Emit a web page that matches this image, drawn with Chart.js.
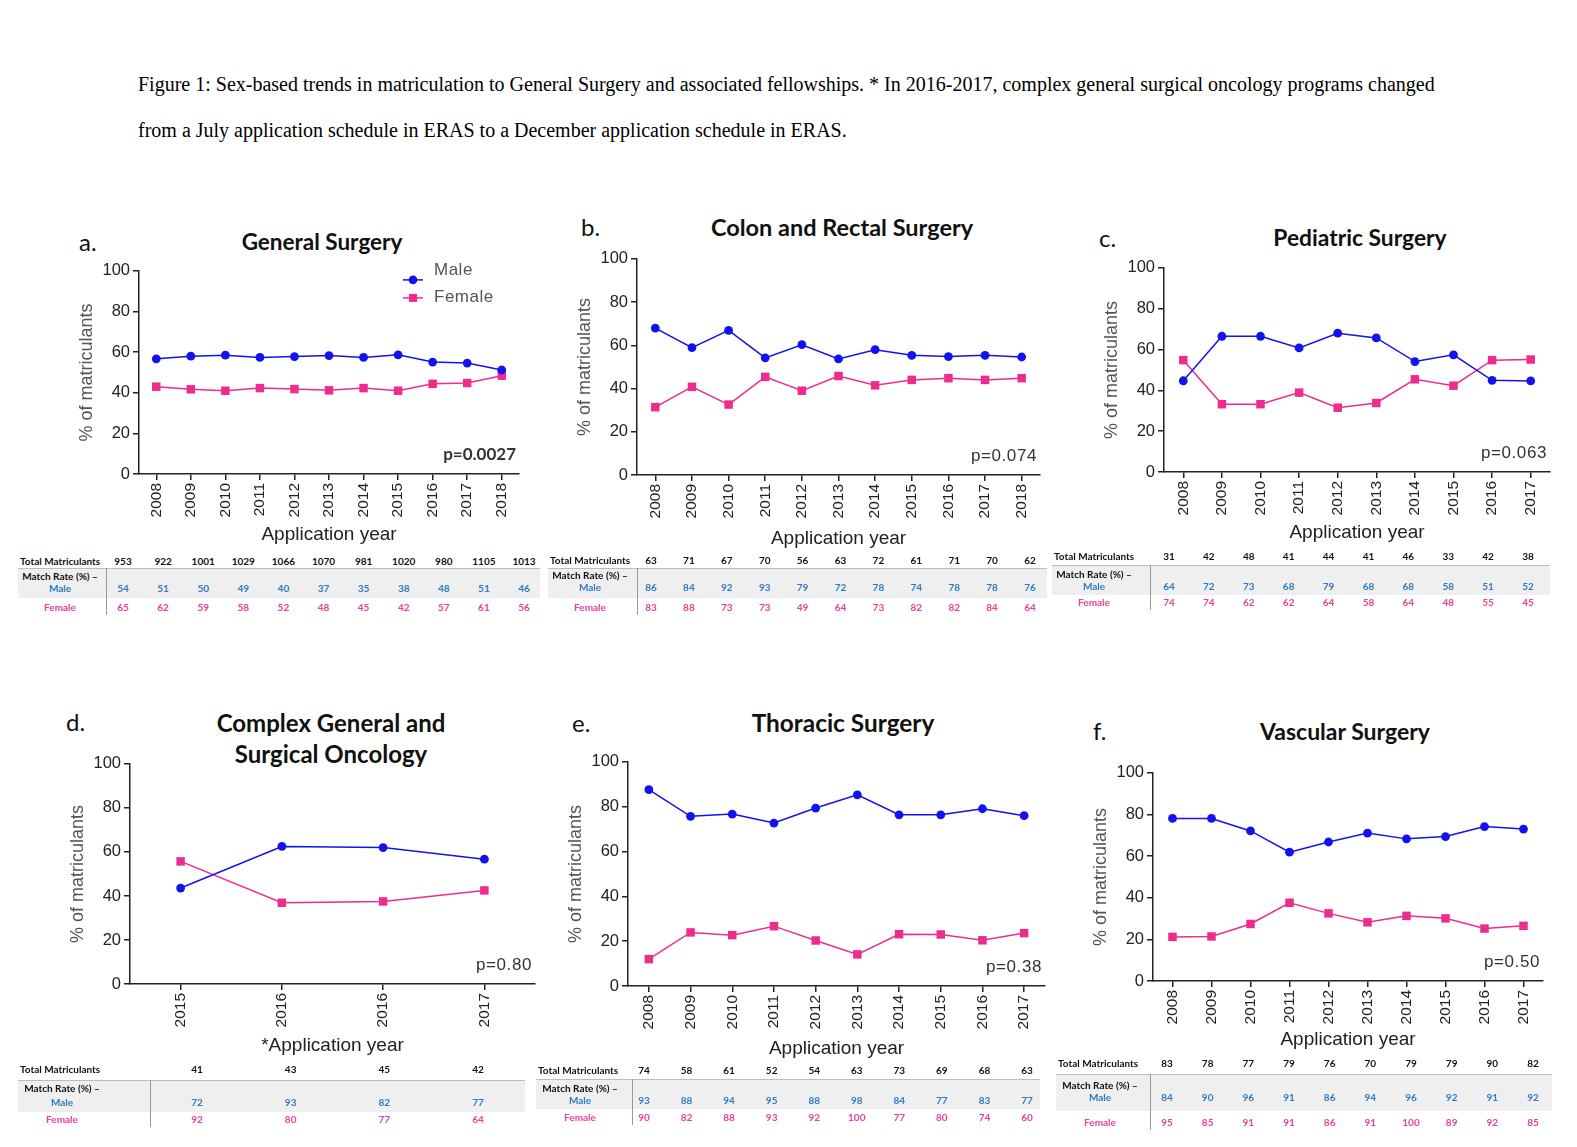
<!DOCTYPE html>
<html>
<head>
<meta charset="utf-8">
<script src="https://cdn.jsdelivr.net/npm/chart.js@4.4.1/dist/chart.umd.min.js"></script>
<style>
  body { margin: 0; background: #fff; width: 1577px; height: 1147px; position: relative; overflow: hidden; }
  .cap { position: absolute; left: 138px; font-family: "Liberation Serif", "Times New Roman", serif; font-size: 20px; color: #000; white-space: nowrap; transform: translateY(-50%); }
  .letter { position: absolute; font-family: Lato, "Open Sans", sans-serif; font-size: 24px; color: #111; transform: translateY(-50%); }
  .title { position: absolute; font-family: Lato, "Open Sans", sans-serif; font-weight: bold; color: #111; transform: translate(-50%, -50%); text-align: center; white-space: nowrap; line-height: 31px; }
  canvas { position: absolute; }
  .tb { position: absolute; font-family: Lato, "Open Sans", sans-serif; font-weight: bold; font-size: 10px; white-space: nowrap; transform: translateY(-50%); }
  .tc { transform: translate(-50%, -50%); }
  .band { position: absolute; background: #efefef; border-top: 1.5px solid #bcbcbc; }
  .vline { position: absolute; width: 1px; background: #999; }
</style>
</head>
<body>
<div class="cap" style="top:84px">Figure 1: Sex-based trends in matriculation to General Surgery and associated fellowships. * In 2016-2017, complex general surgical oncology programs changed</div>
<div class="cap" style="top:130px">from a July application schedule in ERAS to a December application schedule in ERAS.</div>

<script>
// ---- data ----
const yearsA = ["2008","2009","2010","2011","2012","2013","2014","2015","2016","2017","2018"];
const yearsC = ["2008","2009","2010","2011","2012","2013","2014","2015","2016","2017"];
const yearsD = ["2015","2016","2016","2017"];

// a. General Surgery
const genMale   = [56.7, 58.0, 58.5, 57.4, 57.8, 58.3, 57.4, 58.7, 55.1, 54.6, 51.2];
const genFemale = [43.0, 41.7, 41.0, 42.3, 41.8, 41.2, 42.3, 41.0, 44.4, 44.8, 48.4];
const genTotal  = [953, 922, 1001, 1029, 1066, 1070, 981, 1020, 980, 1105, 1013];
const genMatchM = [54, 51, 50, 49, 40, 37, 35, 38, 48, 51, 46];
const genMatchF = [65, 62, 59, 58, 52, 48, 45, 42, 57, 61, 56];

// b. Colon and Rectal Surgery
const crsMale   = [68.0, 58.9, 66.9, 54.2, 60.3, 53.7, 58.0, 55.4, 54.8, 55.4, 54.6];
const crsFemale = [31.4, 40.8, 32.6, 45.4, 39.0, 45.8, 41.5, 44.0, 44.8, 44.0, 44.8];
const crsTotal  = [63, 71, 67, 70, 56, 63, 72, 61, 71, 70, 62];
const crsMatchM = [86, 84, 92, 93, 79, 72, 78, 74, 78, 78, 76];
const crsMatchF = [83, 88, 73, 73, 49, 64, 73, 82, 82, 84, 64];

// c. Pediatric Surgery
const pedMale   = [44.7, 66.5, 66.5, 60.8, 68.0, 65.7, 54.1, 57.4, 44.9, 44.6];
const pedFemale = [54.8, 33.2, 33.2, 38.9, 31.5, 33.8, 45.4, 42.3, 54.8, 55.1];
const pedTotal  = [31, 42, 48, 41, 44, 41, 46, 33, 42, 38];
const pedMatchM = [64, 72, 73, 68, 79, 68, 68, 58, 51, 52];
const pedMatchF = [74, 74, 62, 62, 64, 58, 64, 48, 55, 45];

// d. Complex General and Surgical Oncology
const oncMale   = [43.6, 62.5, 62.0, 56.7];
const oncFemale = [55.7, 36.9, 37.5, 42.5];
const oncTotal  = [41, 43, 45, 42];
const oncMatchM = [72, 93, 82, 77];
const oncMatchF = [92, 80, 77, 64];

// e. Thoracic Surgery
const thoMale   = [87.6, 75.7, 76.7, 72.7, 79.4, 85.3, 76.4, 76.4, 79.1, 76.0];
const thoFemale = [12.0, 23.9, 22.7, 26.7, 20.3, 14.1, 23.1, 23.0, 20.4, 23.6];
const thoTotal  = [74, 58, 61, 52, 54, 63, 73, 69, 68, 63];
const thoMatchM = [93, 88, 94, 95, 88, 98, 84, 77, 83, 77];
const thoMatchF = [90, 82, 88, 93, 92, 100, 77, 80, 74, 60];

// f. Vascular Surgery
const vasMale   = [78.1, 78.1, 72.1, 61.9, 66.8, 71.1, 68.3, 69.4, 74.2, 73.0];
const vasFemale = [21.2, 21.4, 27.4, 37.6, 32.5, 28.2, 31.3, 30.1, 25.2, 26.5];
const vasTotal  = [83, 78, 77, 79, 76, 70, 79, 79, 90, 82];
const vasMatchM = [84, 90, 96, 91, 86, 94, 96, 92, 91, 92];
const vasMatchF = [95, 85, 91, 91, 86, 91, 100, 89, 92, 85];

const BLUE = "#1212ee";
const PINK = "#ee2c8e";
const SANS = "'Liberation Sans', Arial, sans-serif";

// p-value and the in-chart legend of panel a
const notesPlugin = {
    id: "notes",
    afterDraw(chart, args, opts) {
        const { ctx, chartArea } = chart;
        ctx.save();
        ctx.fillStyle = "#333";
        ctx.font = opts.bold ? "bold 17px Lato, sans-serif" : "17px " + SANS;
        ctx.letterSpacing = opts.bold ? "0px" : "0.6px";
        ctx.textAlign = "right";
        ctx.textBaseline = "middle";
        ctx.fillText(opts.p, chartArea.right - 3, chartArea.bottom - 19);
        ctx.letterSpacing = "0px";
        if (opts.legend) {
            const x0 = chartArea.right - 116, x1 = chartArea.right - 96;
            [[BLUE, "Male", 9, -10, "circle"], [PINK, "Female", 27, -1, "rect"]].forEach(([c, t, dy, ty, shape]) => {
                const y = chartArea.top + dy;
                ctx.strokeStyle = c;
                ctx.lineWidth = 1.5;
                ctx.beginPath(); ctx.moveTo(x0, y); ctx.lineTo(x1, y); ctx.stroke();
                ctx.fillStyle = c;
                if (shape === "circle") { ctx.beginPath(); ctx.arc((x0 + x1) / 2, y, 4.3, 0, Math.PI * 2); ctx.fill(); }
                else ctx.fillRect((x0 + x1) / 2 - 4, y - 4, 8, 8);
                ctx.fillStyle = "#555";
                ctx.textAlign = "left";
                ctx.font = "17px " + SANS;
                ctx.letterSpacing = "0.5px";
                ctx.fillText(t, chartArea.right - 85, y + ty);
                ctx.letterSpacing = "0px";
            });
        }
        ctx.restore();
    }
};

function addDiv(cls, text, css) {
    const d = document.createElement("div");
    d.className = cls;
    d.textContent = text;
    Object.assign(d.style, css);
    document.body.appendChild(d);
    return d;
}

function makePanel(g, labels, male, female, p, xTitle, legend) {
    const axisW = 67, padTop = 12, padRight = 10;
    const left = g.axisX - axisW, top = g.top - padTop;
    const width = g.right + padRight - left;
    const height = g.xTitle + 20 - top;
    const xH = height - (g.zero - top);
    const cv = document.createElement("canvas");
    cv.width = width; cv.height = height;
    Object.assign(cv.style, { left: left + "px", top: top + "px", width: width + "px", height: height + "px" });
    document.body.appendChild(cv);

    const axisLine = { display: true, color: "#222", width: 1.5 };
    const tickGrid = { display: true, drawOnChartArea: false, drawTicks: true, tickLength: 6, color: "#222", lineWidth: 1.5 };
    new Chart(cv, {
        type: "line",
        data: {
            labels: labels,
            datasets: [
                { label: "Male", data: male, borderColor: BLUE, backgroundColor: BLUE, borderWidth: 1.5,
                  pointStyle: "circle", pointRadius: 4.4, pointBorderWidth: 0, tension: 0 },
                { label: "Female", data: female, borderColor: PINK, backgroundColor: PINK, borderWidth: 1.5,
                  pointStyle: "rect", pointRadius: 6, pointBorderWidth: 0, tension: 0 }
            ]
        },
        options: {
            responsive: false,
            animation: false,
            events: [],
            layout: { padding: { top: padTop, right: padRight, left: 0, bottom: 0 } },
            plugins: {
                legend: { display: false },
                tooltip: { enabled: false },
                notes: { p: p, bold: !!legend, legend: !!legend }
            },
            scales: {
                x: {
                    offset: true,
                    border: axisLine,
                    grid: tickGrid,
                    ticks: { autoSkip: false, minRotation: 90, maxRotation: 90, color: "#222", padding: 3,
                             font: { family: SANS, size: 15.5 } },
                    title: { display: true, text: xTitle, color: "#222", padding: { top: 0, bottom: 8 },
                             font: { family: SANS, size: 19 } },
                    afterFit: s => { s.height = xH; }
                },
                y: {
                    min: 0, max: 100,
                    border: axisLine,
                    grid: tickGrid,
                    ticks: { stepSize: 20, color: "#222", padding: 3,
                             font: { family: SANS, size: 16.5 } },
                    title: { display: true, text: "% of matriculants", color: "#555", padding: { top: 4, bottom: 0 },
                             font: { family: SANS, size: 18 } },
                    afterFit: s => { s.width = axisW; }
                }
            }
        },
        plugins: [notesPlugin]
    });
}

function makeTable(t, total, matchM, matchF) {
    const band = document.createElement("div");
    band.className = "band";
    Object.assign(band.style, { left: t.bandL + "px", top: t.bandTop + "px", width: (t.bandR - t.bandL) + "px", height: (t.bandBot - t.bandTop) + "px" });
    document.body.appendChild(band);
    const v = document.createElement("div");
    v.className = "vline";
    Object.assign(v.style, { left: t.vline + "px", top: t.bandTop + "px", height: (t.femY + 8 - t.bandTop) + "px" });
    document.body.appendChild(v);

    addDiv("tb", "Total Matriculants", { left: t.totL + "px", top: t.totY + "px", color: "#111" });
    addDiv("tb tc", "Match Rate (%) \u2013", { left: t.labCx + "px", top: t.matchY + "px", color: "#111" });
    addDiv("tb tc", "Male", { left: t.labCx + "px", top: t.maleY + "px", color: "#2e7bc4" });
    addDiv("tb tc", "Female", { left: t.labCx + "px", top: t.femY + "px", color: "#e8409a" });
    const n = total.length;
    total.forEach((val, i) => {
        const x = t.x0 + (t.x1 - t.x0) * i / (n - 1);
        addDiv("tb tc", String(val), { left: x + "px", top: t.totY + "px", color: "#111" });
        addDiv("tb tc", String(matchM[i]), { left: x + "px", top: t.maleY + "px", color: "#2e7bc4" });
        addDiv("tb tc", String(matchF[i]), { left: x + "px", top: t.femY + "px", color: "#e8409a" });
    });
}

function heading(letter, lx, ly, title, tx, ty, size) {
    addDiv("letter", letter, { left: lx + "px", top: ly + "px" });
    const d = addDiv("title", "", { left: tx + "px", top: ty + "px", fontSize: size + "px" });
    d.innerHTML = title;
}

// ---- panels ----
heading("a.", 79, 241, "General Surgery", 322, 241, 22.5);
makePanel({ axisX: 139, top: 270, zero: 474, right: 519, xTitle: 534 }, yearsA, genMale, genFemale, "p=0.0027", "Application year", true);
makeTable({ totL: 20, totY: 561, bandL: 18, bandR: 540, bandTop: 568, bandBot: 597, vline: 106, labCx: 60,
            matchY: 576, maleY: 588, femY: 607, x0: 123, x1: 524 }, genTotal, genMatchM, genMatchF);

heading("b.", 581, 226, "Colon and Rectal Surgery", 842, 227, 23.5);
makePanel({ axisX: 637, top: 258, zero: 475, right: 1040, xTitle: 538 }, yearsA, crsMale, crsFemale, "p=0.074", "Application year", false);
makeTable({ totL: 550, totY: 560, bandL: 548, bandR: 1047, bandTop: 568, bandBot: 597, vline: 637, labCx: 590,
            matchY: 575, maleY: 587, femY: 607, x0: 651, x1: 1030 }, crsTotal, crsMatchM, crsMatchF);

heading("c.", 1099, 237, "Pediatric Surgery", 1360, 237, 22.8);
makePanel({ axisX: 1164, top: 267, zero: 472, right: 1550, xTitle: 532 }, yearsC, pedMale, pedFemale, "p=0.063", "Application year", false);
makeTable({ totL: 1054, totY: 556, bandL: 1052, bandR: 1550, bandTop: 565, bandBot: 594, vline: 1150, labCx: 1094,
            matchY: 574, maleY: 586, femY: 602, x0: 1169, x1: 1528 }, pedTotal, pedMatchM, pedMatchF);

heading("d.", 66, 721, "Complex General and<br>Surgical Oncology", 331, 738, 24);
makePanel({ axisX: 130, top: 763, zero: 984, right: 535, xTitle: 1045 }, yearsD, oncMale, oncFemale, "p=0.80", "*Application year", false);
makeTable({ totL: 20, totY: 1069, bandL: 18, bandR: 525, bandTop: 1080, bandBot: 1111, vline: 150, labCx: 62,
            matchY: 1088, maleY: 1102, femY: 1119, x0: 197, x1: 478 }, oncTotal, oncMatchM, oncMatchF);

heading("e.", 572, 722, "Thoracic Surgery", 843, 722, 24.4);
makePanel({ axisX: 628, top: 761, zero: 986, right: 1045, xTitle: 1048 }, yearsC, thoMale, thoFemale, "p=0.38", "Application year", false);
makeTable({ totL: 538, totY: 1070, bandL: 536, bandR: 1040, bandTop: 1079, bandBot: 1108, vline: 632, labCx: 580,
            matchY: 1088, maleY: 1100, femY: 1117, x0: 644, x1: 1027 }, thoTotal, thoMatchM, thoMatchF);

heading("f.", 1093, 730, "Vascular Surgery", 1345, 731, 23);
makePanel({ axisX: 1153, top: 772, zero: 981, right: 1543, xTitle: 1039 }, yearsC, vasMale, vasFemale, "p=0.50", "Application year", false);
makeTable({ totL: 1058, totY: 1063, bandL: 1056, bandR: 1552, bandTop: 1074, bandBot: 1110, vline: 1150, labCx: 1100,
            matchY: 1085, maleY: 1097, femY: 1122, x0: 1167, x1: 1533 }, vasTotal, vasMatchM, vasMatchF);
</script>
</body>
</html>
